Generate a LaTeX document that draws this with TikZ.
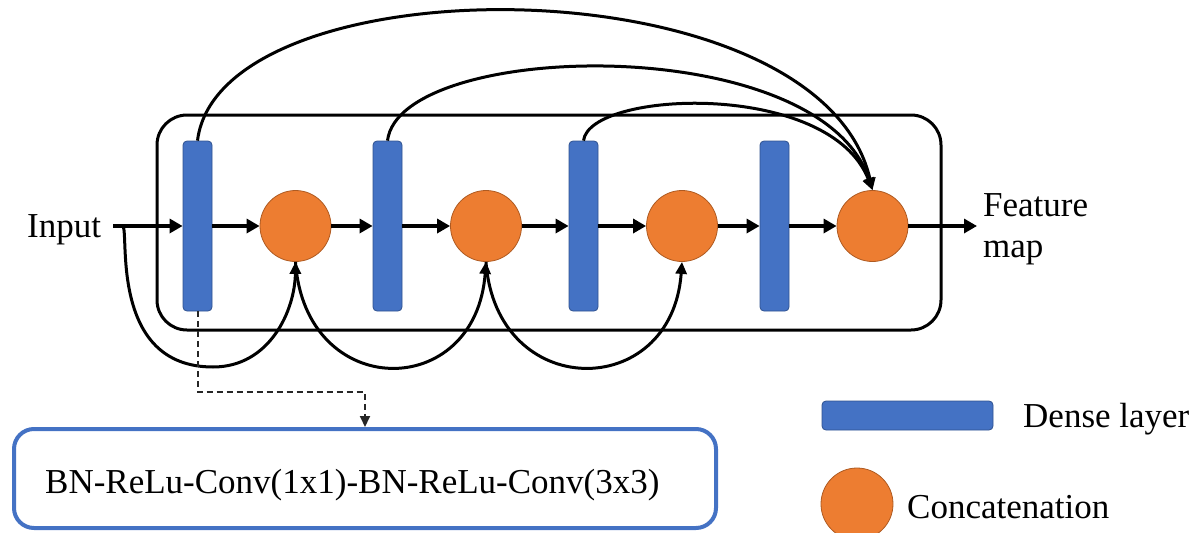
\documentclass[tikz,border=0pt]{standalone}
\usepackage{fontspec}
\setmainfont{Liberation Serif}
\usetikzlibrary{arrows.meta}
\definecolor{layerblue}{HTML}{4472C4}
\definecolor{layeredge}{HTML}{2F528F}
\definecolor{catorange}{HTML}{ED7D31}
\definecolor{catedge}{HTML}{AE5A21}

\begin{document}
\begin{tikzpicture}[x=1pt,y=-1pt,
  dense/.style={draw=layeredge, line width=0.8pt, fill=layerblue, rounded corners=4pt,
                minimum width=29pt, minimum height=170pt, inner sep=0pt},
  concat/.style={circle, draw=catedge, line width=0.8pt, fill=catorange,
                 minimum size=71pt, inner sep=0pt},
  mainflow/.style={line width=4pt, -{Triangle[length=13pt,width=14pt]}},
  bypass/.style={line width=3pt, -{Triangle[length=12pt,width=11pt]}},
  dashline/.style={line width=2pt, black!85, dash pattern=on 6pt off 4pt,
                   -{Triangle[length=11pt,width=10pt]}},
  txt/.style={font=\fontsize{35}{41}\selectfont, inner sep=0pt},
]
\useasboundingbox (0,0) rectangle (1195,533);

% dense block frame
\node[draw, line width=3pt, rounded corners=30pt, minimum width=784pt,
      minimum height=215pt, inner sep=0pt] (block) at (549,222.5) {};

% layers and concatenations
\node[dense] (d1) at (197.5,226) {};
\node[concat] (c1) at (295.5,226) {};
\node[dense] (d2) at (387.5,226) {};
\node[concat] (c2) at (486,226) {};
\node[dense] (d3) at (583.5,226) {};
\node[concat] (c3) at (682,226) {};
\node[dense] (d4) at (774.5,226) {};
\node[concat] (c4) at (872.5,226) {};

% input / output
\node[txt, anchor=base west] (input) at (27,237) {Input};
\node[txt, anchor=north west, align=left] (fmap) at (983,193) {Feature\\map};
\coordinate (in) at (113,226);
\coordinate (split) at (123,226);
\coordinate (out) at (977,226);

% main data path
\draw[mainflow] (in) -- (d1.west);
\draw[mainflow] (d1.east) -- (c1.west);
\draw[mainflow] (c1.east) -- (d2.west);
\draw[mainflow] (d2.east) -- (c2.west);
\draw[mainflow] (c2.east) -- (d3.west);
\draw[mainflow] (d3.east) -- (c3.west);
\draw[mainflow] (c3.east) -- (d4.west);
\draw[mainflow] (d4.east) -- (c4.west);
\draw[mainflow] (c4.east) -- (out);

% dense connections into the last concatenation
\draw[bypass] (d1.north) .. controls (220,-40) and (820,-40) .. (c4.north);
\draw[bypass] (d2.north) .. controls (400,40) and (820,30) .. (c4.north);
\draw[bypass] (d3.north) .. controls (590,90) and (830,80) .. (c4.north);

% skip connections below
\draw[bypass] (split) .. controls (129,235) and (110,367) .. (213,367)
              .. controls (270,367) and (295,310) .. (c1.south);
\draw[bypass] (c1.south) .. controls (305,402) and (476,402) .. (c2.south);
\draw[bypass] (c2.south) .. controls (496,402) and (672,402) .. (c3.south);

% dense layer detail
\node[draw=layerblue, line width=4pt, rounded corners=20pt, minimum width=702pt,
      minimum height=99pt, inner sep=0pt] (conv) at (365,478.5) {};
\node[txt, anchor=base west] (convtext) at (45,493) {BN-ReLu-Conv(1x1)-BN-ReLu-Conv(3x3)};
\draw[dashline] (d1.south) -- ++(0,81) -| (conv.north);

% legend
\node[dense, minimum width=171pt, minimum height=29pt] (legd) at (907.5,415.5) {};
\node[txt, anchor=base west] (legdtext) at (1023,427) {Dense layer};
\node[concat, minimum size=72pt] (legc) at (857,504) {};
\node[txt, anchor=base west] (legctext) at (907,518) {Concatenation};
\end{tikzpicture}
\end{document}
